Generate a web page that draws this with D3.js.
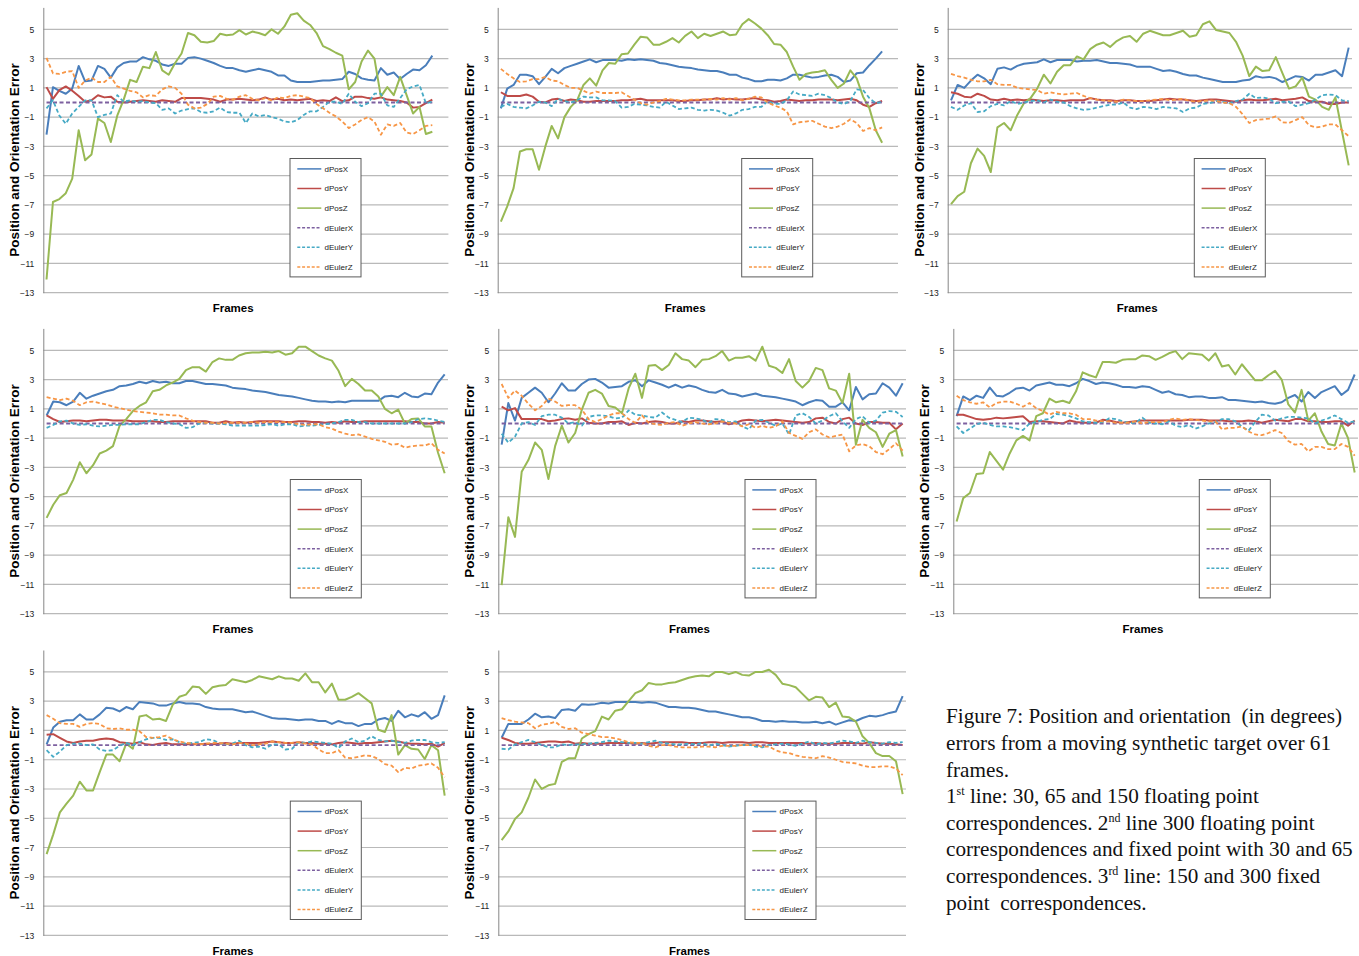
<!DOCTYPE html>
<html>
<head>
<meta charset="utf-8">
<script src="https://cdn.jsdelivr.net/npm/d3@7"></script>
<style>
  body { margin: 0; background: #fff; }
  svg text { font-family: "Liberation Sans", Arial, sans-serif; }
  .caption text { font-family: "Liberation Serif", "Times New Roman", serif; white-space: pre; }
</style>
</head>
<body>
<svg id="chart" width="1359" height="956"></svg>
<script>
// Series names and y ticks
const seriesNames = ['dPosX', 'dPosY', 'dPosZ', 'dEulerX', 'dEulerY', 'dEulerZ'];
const yTicks = [-13, -11, -9, -7, -5, -3, -1, 1, 3, 5];
const yDomain = [-13, 6.5];

// dEulerX stays on zero in every panel
const eulerXFlat = [0, 0, 0, 0, 0, 0, 0, 0, 0, 0, 0, 0, 0, 0, 0, 0, 0, 0, 0, 0,
  0, 0, 0, 0, 0, 0, 0, 0, 0, 0, 0, 0, 0, 0, 0, 0, 0, 0, 0, 0,
  0, 0, 0, 0, 0, 0, 0, 0, 0, 0, 0, 0, 0, 0, 0, 0, 0, 0, 0, 0, 0];

// Panel 1 (30 floating)
const p1PosX = [-2.2, 1.05, 0.8, 0.6, 0.95, 2.5, 1.45, 1.5, 2.5, 2.3,
  1.7, 2.4, 2.7, 2.8, 2.8, 3.1, 2.95, 2.85, 2.6, 2.5,
  2.65, 2.65, 3.05, 3.1, 3.0, 2.85, 2.7, 2.5, 2.35, 2.35,
  2.2, 2.1, 2.2, 2.3, 2.2, 2.1, 1.85, 1.85, 1.5, 1.4,
  1.4, 1.4, 1.45, 1.5, 1.5, 1.55, 1.6, 2.1, 1.95, 1.65,
  1.55, 1.5, 2.35, 1.9, 2.05, 1.6, 1.95, 2.25, 2.2, 2.55, 3.2];
const p1PosY = [1.05, 0.25, 0.85, 1.1, 0.8, 0.45, 0.05, 0.15, 0.5, 0.35,
  0.4, 0.05, 0.0, 0.05, 0.1, 0.15, 0.1, 0.05, 0.15, 0.1,
  0.05, 0.3, 0.3, 0.3, 0.3, 0.25, 0.2, 0.05, 0.2, 0.2,
  0.25, 0.2, 0.15, 0.2, 0.35, 0.2, 0.25, 0.15, 0.2, 0.15,
  0.2, 0.25, 0.1, 0.15, 0.1, 0.35, 0.1, 0.15, 0.4, 0.4,
  0.3, 0.25, 0.35, 0.2, 0.15, 0.1, 0.0, -0.35, -0.3, -0.05, 0.2];
const p1PosZ = [-12.1, -6.8, -6.6, -6.2, -5.2, -1.9, -3.95, -3.55, -1.1, -1.4,
  -2.7, -0.9, 0.2, 1.55, 1.4, 2.45, 2.35, 3.45, 2.2, 1.9,
  2.7, 3.35, 4.75, 4.6, 4.15, 4.1, 4.2, 4.7, 4.6, 4.65,
  4.95, 4.65, 4.85, 4.75, 4.6, 5.0, 4.7, 5.2, 6.0, 6.1,
  5.6, 5.3, 4.75, 3.85, 3.65, 3.4, 3.2, 0.9, 1.4, 2.8,
  3.55, 3.0, 0.4, 1.05, 0.5, 1.75, 0.5, -0.75, -0.3, -2.15, -2.0];
const p1EulerY = [-0.4, 0.15, -0.9, -1.45, -0.75, -0.3, 0.15, 0.15, -1.0, -0.85,
  -0.75, 0.5, 0.05, 0.15, 0.05, 0.1, 0.0, -0.05, -0.5, -0.4,
  -0.75, -0.55, -0.45, -0.4, -0.65, -0.7, -0.6, -0.35, -0.65, -0.7,
  -0.7, -1.4, -0.75, -0.95, -0.85, -1.0, -1.1, -1.3, -1.35, -1.2,
  -0.85, -0.6, -0.6, -0.3, 0.05, 0.05, -0.1, 0.6, 0.05, -0.25,
  -0.05, 0.6, 0.6, -0.2, -0.3, 0.3, 0.9, 1.1, 1.2, -0.05, 0.05];
const p1EulerZ = [3.05, 2.0, 1.95, 2.1, 2.15, 1.0, 1.5, 1.7, 1.4, 1.4,
  1.75, 1.1, 0.95, 0.8, 0.7, 0.35, 0.5, 0.45, 0.9, 1.1,
  1.0, 0.6, -0.15, -0.4, -0.35, -0.1, 0.4, 0.45, 0.25, 0.2,
  0.4, 0.5, 0.25, 0.15, 0.3, 0.15, 0.35, 0.3, 0.45, 0.5,
  0.4, 0.3, -0.1, -0.4, -0.7, -0.95, -1.3, -1.75, -1.5, -1.2,
  -1.0, -1.3, -2.2, -1.5, -1.6, -1.4, -2.05, -2.15, -1.9, -1.6, -1.55];

// Panel 2 (65 floating)
const p2PosX = [-0.4, 0.95, 1.2, 1.9, 1.9, 1.8, 1.25, 1.75, 2.3, 2.0,
  2.35, 2.5, 2.65, 2.8, 2.95, 2.75, 2.9, 2.9, 2.9, 2.85,
  2.95, 2.9, 2.95, 2.9, 2.85, 2.7, 2.65, 2.55, 2.45, 2.4,
  2.35, 2.25, 2.2, 2.15, 2.15, 2.05, 1.9, 1.9, 1.7, 1.6,
  1.45, 1.45, 1.55, 1.55, 1.5, 1.65, 1.9, 1.9, 1.8, 1.7,
  1.75, 1.85, 1.9, 1.75, 1.4, 1.5, 2.0, 2.05, 2.55, 3.0, 3.5];
const p2PosY = [0.7, 0.45, 0.45, 0.45, 0.55, 0.4, 0.05, 0.0, 0.2, 0.25,
  0.1, 0.2, 0.15, 0.05, 0.05, 0.1, 0.1, 0.1, 0.1, 0.15,
  0.15, 0.2, 0.25, 0.15, 0.15, 0.15, 0.15, 0.15, 0.1, 0.1,
  0.15, 0.15, 0.2, 0.2, 0.3, 0.2, 0.25, 0.2, 0.2, 0.25,
  0.3, 0.2, 0.15, 0.05, 0.1, 0.2, 0.15, 0.1, 0.15, 0.15,
  0.2, 0.2, 0.2, 0.15, 0.2, 0.25, 0.15, -0.15, -0.3, -0.05, 0.1];
const p2PosZ = [-8.15, -7.1, -5.85, -3.35, -3.2, -3.2, -4.6, -3.0, -1.6, -2.45,
  -1.0, -0.3, 0.15, 1.2, 1.65, 1.15, 2.2, 2.7, 2.65, 3.3,
  3.35, 3.95, 4.5, 4.45, 3.95, 3.95, 4.15, 4.4, 4.1, 4.55,
  4.85, 4.4, 4.7, 4.55, 4.7, 4.85, 4.6, 4.65, 5.35, 5.7,
  5.4, 5.05, 4.6, 4.0, 3.95, 3.45, 2.45, 1.55, 1.95, 2.05,
  2.1, 2.2, 1.55, 1.0, 1.3, 2.2, 1.65, 0.4, -0.4, -1.9, -2.75];
const p2EulerY = [-0.3, -0.1, -0.3, -0.35, -0.4, -0.2, 0.05, 0.0, -0.25, 0.25,
  0.1, 0.0, 0.15, 0.4, 0.35, 0.35, 0.15, 0.15, 0.1, -0.35,
  -0.3, -0.1, -0.15, -0.2, -0.3, -0.35, 0.05, -0.2, -0.45, -0.4,
  -0.35, -0.5, -0.55, -0.5, -0.55, -0.7, -0.9, -0.75, -0.5, -0.45,
  -0.3, -0.3, 0.1, -0.1, -0.1, 0.15, 0.75, 0.55, 0.5, 0.45,
  0.6, 0.5, 0.3, 0.0, -0.1, 0.1, 0.9, 0.85, 0.3, -0.05, 0.05];
const p2EulerZ = [2.3, 1.95, 1.65, 1.4, 1.45, 1.6, 1.6, 1.75, 1.5, 1.45,
  1.2, 1.0, 1.0, 0.8, 0.6, 0.75, 0.65, 0.65, 0.65, 0.7,
  0.45, 0.2, -0.05, -0.15, 0.0, 0.1, 0.25, 0.2, 0.15, 0.15,
  0.2, 0.2, 0.2, 0.25, 0.2, 0.3, 0.2, 0.3, 0.15, 0.25,
  0.4, 0.35, 0.0, -0.2, -0.35, -0.6, -1.5, -1.35, -1.3, -1.25,
  -1.45, -1.65, -1.75, -1.65, -1.45, -1.15, -1.4, -1.95, -1.75, -1.9, -1.7];

// Panel 3 (150 floating)
const p3PosX = [0.15, 1.2, 1.0, 1.5, 1.9, 1.65, 1.25, 2.3, 2.4, 2.25,
  2.5, 2.65, 2.7, 2.75, 2.95, 2.75, 2.9, 2.9, 2.9, 2.8,
  2.85, 2.85, 2.9, 2.8, 2.7, 2.7, 2.65, 2.6, 2.45, 2.45,
  2.45, 2.3, 2.15, 2.2, 2.1, 1.95, 1.85, 1.85, 1.7, 1.6,
  1.5, 1.4, 1.4, 1.4, 1.5, 1.55, 1.8, 1.7, 1.75, 1.65,
  1.4, 1.6, 1.8, 1.75, 1.5, 1.9, 1.9, 2.05, 2.2, 1.8, 3.75];
const p3PosY = [0.7, 0.6, 0.4, 0.35, 0.6, 0.45, 0.2, 0.15, 0.25, 0.15,
  0.2, 0.15, 0.2, 0.15, 0.1, 0.15, 0.15, 0.1, 0.15, 0.15,
  0.15, 0.3, 0.2, 0.15, 0.15, 0.1, 0.15, 0.15, 0.1, 0.1,
  0.1, 0.15, 0.2, 0.25, 0.2, 0.2, 0.15, 0.1, 0.15, 0.2,
  0.2, 0.15, 0.1, 0.05, 0.15, 0.2, 0.15, 0.15, 0.2, 0.25,
  0.15, 0.2, 0.25, 0.35, 0.1, 0.05, 0.05, -0.1, -0.1, 0.0, 0.0];
const p3PosZ = [-6.95, -6.4, -6.1, -4.15, -3.15, -3.65, -4.75, -1.7, -1.4, -1.9,
  -0.85, -0.05, 0.3, 0.95, 1.9, 1.3, 2.1, 2.55, 2.55, 3.15,
  2.95, 3.65, 3.95, 4.1, 3.8, 4.2, 4.45, 4.55, 4.15, 4.7,
  4.9, 4.75, 4.6, 4.6, 4.75, 4.9, 4.5, 4.6, 5.35, 5.55,
  4.95, 4.85, 4.75, 4.15, 3.2, 1.8, 2.45, 2.15, 2.2, 3.1,
  2.0, 0.95, 1.1, 1.7, 0.4, 0.2, -0.3, -0.5, 0.35, -2.0, -4.3];
const p3EulerY = [-0.3, -0.5, -0.2, -0.05, -0.65, -0.6, -0.25, -0.1, -0.2, 0.1,
  -0.1, 0.0, 0.1, 0.15, 0.0, 0.2, 0.05, 0.0, -0.25, -0.4,
  -0.5, -0.45, -0.35, -0.25, -0.15, -0.15, 0.0, -0.35, -0.45, -0.3,
  -0.35, -0.45, -0.3, -0.35, -0.4, -0.65, -0.4, -0.35, -0.1, -0.05,
  0.1, 0.05, -0.05, 0.1, 0.2, 0.6, 0.3, 0.35, 0.25, -0.05,
  0.05, 0.05, -0.25, -0.15, -0.05, 0.2, 0.5, 0.55, 0.5, 0.15, 0.1];
const p3EulerZ = [1.95, 1.8, 1.7, 1.55, 1.45, 1.45, 1.55, 1.25, 1.2, 1.2,
  1.0, 0.95, 0.9, 0.85, 0.6, 0.7, 0.6, 0.55, 0.6, 0.65,
  0.45, 0.3, 0.2, 0.15, 0.1, 0.05, 0.2, 0.15, 0.1, 0.1,
  0.15, 0.2, 0.25, 0.15, 0.2, 0.25, 0.1, 0.05, 0.1, 0.15,
  0.1, 0.0, -0.05, -0.3, -0.8, -1.4, -1.2, -1.15, -1.1, -0.95,
  -1.35, -1.4, -1.2, -1.0, -1.55, -1.7, -1.65, -1.5, -1.5, -1.9, -2.3];

// Panel 4 (300 floating)
const p4PosX = [0.55, 1.5, 1.45, 1.25, 1.5, 2.1, 1.7, 1.9, 2.05, 2.2,
  2.3, 2.55, 2.6, 2.7, 2.85, 2.75, 2.9, 2.8, 2.85, 2.75,
  2.75, 2.9, 2.9, 2.8, 2.7, 2.7, 2.65, 2.6, 2.45, 2.4,
  2.35, 2.25, 2.2, 2.15, 2.05, 1.95, 1.9, 1.85, 1.75, 1.65,
  1.55, 1.5, 1.5, 1.45, 1.5, 1.45, 1.55, 1.55, 1.55, 1.55,
  1.55, 1.85, 1.9, 1.8, 2.1, 1.85, 1.8, 2.05, 2.0, 2.8, 3.35];
const p4PosY = [0.55, 0.3, 0.1, 0.15, 0.2, 0.2, 0.15, 0.2, 0.25, 0.25,
  0.2, 0.2, 0.2, 0.15, 0.15, 0.15, 0.15, 0.1, 0.1, 0.15,
  0.15, 0.15, 0.15, 0.15, 0.15, 0.05, 0.05, 0.15, 0.05, 0.1,
  0.05, 0.1, 0.15, 0.15, 0.15, 0.15, 0.1, 0.1, 0.15, 0.15,
  0.1, 0.1, 0.05, 0.1, 0.05, 0.15, 0.1, 0.1, 0.15, 0.15,
  0.15, 0.15, 0.15, 0.15, 0.15, 0.1, 0.1, 0.0, 0.0, 0.1, 0.05];
const p4PosZ = [-6.45, -5.55, -4.9, -4.75, -3.85, -2.65, -3.4, -2.85, -2.05, -1.85,
  -1.55, -0.15, 0.3, 0.85, 1.2, 1.45, 2.2, 2.3, 2.6, 2.8,
  3.05, 3.65, 3.85, 3.85, 3.55, 4.2, 4.45, 4.35, 4.35, 4.65,
  4.8, 4.85, 4.85, 4.9, 4.85, 4.95, 4.7, 4.8, 5.25, 5.25,
  4.95, 4.65, 4.45, 4.3, 3.6, 2.55, 3.05, 2.7, 2.25, 2.25,
  1.85, 1.0, 0.7, 0.95, 0.0, 0.3, 0.35, -0.2, -0.2, -2.0, -3.4];
const p4EulerY = [-0.3, -0.1, 0.15, 0.2, 0.0, -0.1, -0.05, -0.15, -0.2, -0.15,
  -0.1, -0.1, -0.05, -0.05, -0.05, 0.1, 0.25, 0.25, 0.1, 0.0,
  -0.05, -0.3, -0.25, 0.0, 0.05, 0.0, 0.0, -0.05, -0.15, -0.15,
  -0.15, -0.15, -0.15, -0.1, -0.05, -0.15, -0.05, -0.05, -0.2, -0.15,
  -0.15, -0.1, -0.05, 0.0, 0.1, 0.25, 0.25, 0.1, 0.1, 0.0,
  0.0, 0.0, 0.0, 0.0, 0.0, 0.1, 0.3, 0.35, 0.3, 0.2, 0.1];
const p4EulerZ = [1.8, 1.7, 1.6, 1.7, 1.55, 1.25, 1.45, 1.5, 1.4, 1.3,
  1.15, 1.05, 0.95, 0.85, 0.8, 0.75, 0.7, 0.6, 0.6, 0.55,
  0.55, 0.35, 0.2, 0.1, 0.05, 0.05, 0.0, 0.05, 0.05, 0.05,
  0.05, 0.1, 0.05, 0.1, 0.1, 0.1, 0.1, 0.05, -0.05, -0.1,
  -0.05, -0.05, -0.25, -0.35, -0.55, -0.7, -0.8, -0.75, -0.9, -1.05,
  -1.15, -1.25, -1.45, -1.4, -1.65, -1.55, -1.5, -1.5, -1.35, -1.8, -2.05];

// Panel 5 (30 fixed)
const p5PosX = [-1.45, 1.4, 0.2, 1.75, 2.1, 2.45, 2.1, 1.45, 2.05, 2.75,
  2.25, 2.25, 2.7, 3.0, 3.05, 2.8, 2.45, 2.5, 2.55, 2.85,
  2.95, 2.55, 2.95, 2.8, 2.65, 2.45, 2.65, 2.45, 2.6, 2.5,
  2.3, 2.15, 2.1, 2.3, 2.05, 2.0, 1.85, 1.95, 2.05, 1.9,
  1.85, 1.8, 1.7, 1.6, 1.5, 1.25, 1.45, 1.6, 1.55, 1.15,
  1.15, 1.45, 0.9, 2.5, 1.65, 2.0, 2.05, 2.75, 2.45, 1.9, 2.75];
const p5PosY = [1.15, 0.9, 1.05, 0.3, 0.3, 0.3, 0.3, 0.15, 0.2, 0.3,
  0.35, 0.25, 0.35, 0.05, 0.0, 0.0, 0.1, 0.1, 0.15, -0.1,
  0.05, 0.0, 0.1, 0.15, 0.1, 0.0, 0.0, 0.15, 0.1, 0.2,
  0.2, 0.15, 0.1, 0.15, -0.05, 0.05, 0.2, 0.25, 0.2, 0.15,
  0.2, 0.25, 0.2, 0.15, 0.1, 0.05, 0.1, 0.35, 0.4, 0.1,
  0.0, 0.3, 0.4, 0.0, -0.1, 0.1, 0.1, 0.05, 0.05, -0.4, 0.0];
const p5PosZ = [-11.05, -6.4, -7.75, -3.3, -2.5, -1.3, -1.8, -3.8, -1.55, -0.15,
  -1.3, -0.65, 0.95, 2.1, 2.3, 2.05, 1.2, 1.1, 0.7, 2.4,
  3.4, 1.75, 3.95, 4.0, 3.65, 4.0, 4.8, 4.4, 4.3, 3.85,
  4.35, 4.4, 4.6, 4.95, 4.3, 4.5, 4.5, 4.6, 4.3, 5.25,
  3.95, 3.8, 3.45, 4.4, 2.9, 2.45, 2.9, 3.8, 3.65, 2.4,
  2.25, 1.4, 3.4, -1.45, 0.25, -0.3, -0.6, -1.6, -0.7, -0.45, -2.25];
const p5EulerY = [-0.7, -1.3, -0.9, 0.0, 0.1, -0.1, 0.5, 0.6, 0.6, 0.4,
  0.0, 0.1, -0.15, 0.45, 0.55, 0.55, 0.5, 0.35, 0.4, 0.9,
  0.6, 0.55, 0.45, 0.4, 0.75, 0.4, 0.25, 0.1, 0.4, 0.35,
  0.25, 0.05, 0.3, 0.25, 0.1, 0.15, -0.2, -0.4, 0.2, 0.25,
  0.05, -0.15, 0.0, -0.75, 0.55, 0.7, 0.45, 0.0, 0.2, 0.5,
  0.7, 0.15, -0.3, 0.3, 0.5, 0.05, 0.2, 0.75, 0.85, 0.8, 0.45];
const p5EulerZ = [2.7, 1.75, 2.25, 1.9, 1.35, 0.9, 1.2, 1.7, 1.5, 1.2,
  1.25, 1.25, 0.95, 0.3, 0.1, 0.3, 0.55, 0.7, 0.7, 0.3,
  0.05, 0.55, 0.05, -0.05, -0.1, 0.05, 0.1, -0.15, 0.0, 0.1,
  0.0, -0.05, 0.0, 0.15, 0.05, 0.0, -0.2, -0.05, -0.3, -0.15,
  -0.3, -0.2, 0.15, -0.65, -0.85, -1.05, -0.6, -0.4, -0.75, -0.95,
  -0.85, -0.75, -1.9, -1.5, -1.4, -1.55, -1.95, -2.1, -1.75, -1.35, -1.85];

// Panel 6 (65 fixed)
const p6PosX = [0.5, 1.85, 1.6, 1.9, 1.75, 2.45, 1.9, 1.85, 2.1, 2.4,
  2.45, 2.25, 2.6, 2.7, 2.8, 2.65, 2.65, 2.55, 2.75, 3.05,
  2.9, 2.7, 2.8, 2.75, 2.65, 2.5, 2.5, 2.45, 2.55, 2.5,
  2.3, 2.1, 2.2, 2.0, 1.95, 1.8, 1.85, 1.85, 1.75, 1.75,
  1.8, 1.6, 1.6, 1.55, 1.5, 1.45, 1.5, 1.4, 1.35, 1.45,
  1.75, 1.95, 1.5, 2.15, 1.75, 2.15, 2.35, 2.55, 1.95, 2.3, 3.35];
const p6PosY = [0.6, 0.6, 0.45, 0.3, 0.25, 0.3, 0.4, 0.35, 0.4, 0.45,
  0.5, 0.1, 0.15, 0.15, 0.1, 0.05, 0.0, 0.2, 0.1, 0.05,
  0.05, 0.05, 0.25, 0.2, 0.1, 0.05, 0.1, 0.15, 0.2, 0.2,
  0.2, 0.2, 0.2, 0.2, 0.2, 0.25, 0.25, 0.25, 0.2, 0.2,
  0.2, 0.15, 0.15, 0.15, 0.2, 0.15, 0.05, 0.15, 0.25, 0.2,
  0.15, 0.3, 0.3, 0.15, 0.15, 0.1, 0.1, 0.15, 0.15, -0.15, 0.2];
const p6PosZ = [-6.7, -5.1, -4.75, -3.45, -3.4, -1.95, -2.55, -3.15, -2.05, -1.15,
  -0.85, -1.15, 0.5, 0.7, 1.7, 1.45, 1.55, 1.4, 2.2, 3.5,
  3.3, 3.15, 4.2, 4.2, 4.15, 4.35, 4.4, 4.4, 4.65, 4.6,
  4.35, 4.55, 4.8, 4.95, 4.4, 4.8, 4.75, 4.7, 4.3, 4.8,
  3.9, 4.0, 3.35, 4.05, 3.5, 2.95, 2.95, 3.3, 3.6, 3.0,
  1.3, 0.75, 2.3, 0.2, 0.7, -0.55, -1.4, -1.5, 0.0, -1.0, -3.35];
const p6EulerY = [-0.2, -0.65, -0.35, -0.05, 0.05, -0.1, -0.2, -0.2, -0.25, -0.35,
  -0.45, 0.0, 0.1, 0.25, 0.3, 0.65, 0.6, 0.5, 0.35, 0.15,
  0.1, 0.05, 0.1, 0.35, 0.3, 0.15, 0.05, 0.05, 0.4, 0.05,
  0.0, -0.05, 0.15, -0.15, -0.25, -0.1, -0.35, -0.2, 0.0, 0.1,
  0.3, 0.3, 0.15, -0.2, -0.5, 0.1, 0.6, 0.55, 0.2, 0.35,
  0.45, 0.45, 0.4, 0.35, 0.0, 0.2, 0.35, 0.55, 0.3, 0.05, 0.15];
const p6EulerZ = [1.9, 1.6, 1.45, 1.35, 1.45, 1.1, 1.4, 1.5, 1.5, 1.35,
  1.15, 1.4, 1.05, 0.85, 0.6, 0.8, 0.7, 0.7, 0.6, 0.3,
  0.3, 0.2, 0.15, 0.15, 0.05, 0.05, 0.05, 0.15, 0.0, 0.1,
  0.1, 0.1, 0.25, 0.35, 0.25, 0.3, 0.25, 0.2, 0.15, 0.15,
  -0.4, -0.3, -0.3, -0.2, -0.55, -0.75, -0.8, -0.65, -0.45, -0.65,
  -1.2, -1.45, -1.4, -1.9, -1.6, -1.6, -1.75, -1.75, -1.4, -1.6, -2.2];

// Panel 7 (150 fixed)
const p7PosX = [0.05, 1.2, 1.6, 1.7, 1.7, 2.1, 1.75, 1.75, 2.1, 2.55,
  2.5, 2.3, 2.6, 2.45, 2.95, 2.9, 2.85, 2.7, 2.7, 2.85,
  2.95, 2.85, 2.85, 2.8, 2.6, 2.5, 2.45, 2.45, 2.45, 2.35,
  2.25, 2.3, 2.15, 2.0, 1.85, 1.8, 1.8, 1.75, 1.7, 1.75,
  1.75, 1.65, 1.65, 1.45, 1.65, 1.5, 1.5, 1.3, 1.45, 1.45,
  1.75, 1.85, 1.65, 2.35, 1.9, 2.1, 1.95, 2.25, 1.8, 2.05, 3.4];
const p7PosY = [0.7, 0.75, 0.5, 0.25, 0.15, 0.25, 0.3, 0.3, 0.4, 0.45,
  0.4, 0.2, 0.15, 0.1, 0.2, 0.05, 0.0, 0.1, 0.15, 0.05,
  0.05, 0.05, 0.05, 0.05, 0.1, 0.05, 0.1, 0.15, 0.1, 0.15,
  0.15, 0.15, 0.15, 0.2, 0.25, 0.2, 0.15, 0.15, 0.2, 0.15,
  0.15, 0.1, 0.1, 0.05, 0.15, 0.2, 0.15, 0.1, 0.15, 0.15,
  0.2, 0.25, 0.3, 0.25, 0.15, 0.1, 0.1, 0.05, 0.1, -0.1, 0.15];
const p7PosZ = [-7.45, -6.1, -4.6, -4.0, -3.45, -2.5, -3.1, -3.1, -1.85, -0.65,
  -0.65, -1.1, 0.1, -0.25, 1.95, 2.05, 1.75, 1.8, 1.65, 2.75,
  3.3, 3.45, 4.0, 3.95, 3.5, 3.95, 4.05, 4.1, 4.5, 4.4,
  4.3, 4.45, 4.7, 4.6, 4.5, 4.7, 4.55, 4.55, 4.4, 4.9,
  4.3, 4.3, 3.6, 4.2, 3.1, 3.1, 3.3, 3.55, 3.2, 2.85,
  1.05, 0.9, 2.05, -0.65, 0.0, -0.25, -0.3, -0.95, 0.0, -0.35, -3.45];
const p7EulerY = [-0.35, -0.8, -0.45, 0.0, 0.1, 0.1, 0.0, 0.05, -0.3, -0.4,
  -0.35, -0.05, 0.15, 0.0, 0.2, 0.4, 0.5, 0.5, 0.35, 0.4,
  0.2, 0.1, 0.15, 0.2, 0.4, 0.35, 0.15, 0.05, 0.1, 0.3,
  0.0, -0.15, -0.1, -0.25, 0.05, 0.05, -0.3, -0.25, 0.2, 0.15,
  0.25, 0.2, 0.15, 0.1, -0.2, 0.25, 0.45, 0.2, 0.3, 0.6,
  0.35, 0.25, 0.3, 0.2, 0.15, 0.3, 0.35, 0.35, 0.2, 0.15, 0.2];
const p7EulerZ = [2.05, 1.8, 1.5, 1.45, 1.45, 1.25, 1.45, 1.5, 1.45, 1.15,
  1.1, 1.15, 1.05, 1.05, 0.95, 0.55, 0.5, 0.55, 0.65, 0.4,
  0.25, 0.15, 0.1, 0.05, 0.1, 0.15, 0.15, 0.1, 0.05, 0.15,
  0.1, 0.0, 0.05, 0.1, 0.25, 0.2, 0.15, 0.15, 0.2, 0.1,
  0.05, -0.3, -0.55, -0.55, -0.35, -0.85, -0.9, -0.8, -0.7, -0.75,
  -0.95, -1.3, -1.4, -1.85, -1.55, -1.6, -1.4, -1.35, -1.25, -1.55, -2.2];

// Panel 8 (300 fixed)
const p8PosX = [0.5, 1.45, 1.45, 1.45, 1.75, 2.15, 1.9, 1.95, 1.85, 2.4,
  2.45, 2.35, 2.8, 2.75, 2.8, 2.9, 2.85, 2.95, 2.95, 2.95,
  2.95, 2.9, 2.95, 2.9, 2.75, 2.6, 2.6, 2.55, 2.55, 2.5,
  2.4, 2.3, 2.3, 2.2, 2.1, 2.0, 1.9, 1.9, 1.8, 1.65,
  1.65, 1.6, 1.65, 1.6, 1.6, 1.55, 1.55, 1.6, 1.5, 1.6,
  1.4, 1.55, 1.7, 1.65, 1.85, 2.0, 1.95, 2.05, 2.2, 2.3, 3.35];
const p8PosY = [0.5, 0.35, 0.15, 0.1, 0.1, 0.15, 0.2, 0.25, 0.25, 0.2,
  0.25, 0.1, 0.15, 0.1, 0.1, 0.1, 0.15, 0.15, 0.15, 0.15,
  0.1, 0.15, 0.1, 0.15, 0.2, 0.2, 0.2, 0.2, 0.15, 0.15,
  0.15, 0.2, 0.2, 0.15, 0.2, 0.2, 0.2, 0.15, 0.2, 0.2,
  0.15, 0.15, 0.15, 0.15, 0.15, 0.15, 0.1, 0.15, 0.1, 0.1,
  0.1, 0.15, 0.15, 0.15, 0.1, 0.2, 0.15, 0.1, 0.1, 0.05, 0.0];
const p8PosZ = [-6.5, -5.9, -5.05, -4.6, -3.6, -2.35, -3.0, -2.75, -2.65, -1.15,
  -0.9, -0.9, 0.45, 0.75, 0.95, 1.95, 1.75, 2.35, 2.45, 3.0,
  3.55, 3.75, 4.25, 4.15, 4.15, 4.25, 4.3, 4.45, 4.6, 4.7,
  4.75, 4.7, 5.0, 5.0, 4.85, 5.0, 4.8, 4.75, 5.0, 5.0,
  5.15, 4.8, 4.2, 4.1, 3.95, 3.5, 3.05, 3.3, 3.25, 2.6,
  2.9, 1.95, 1.9, 1.6, 0.6, 0.15, -0.55, -0.75, -0.75, -1.1, -3.35];
const p8EulerY = [-0.25, -0.3, 0.05, 0.2, 0.35, 0.2, 0.0, -0.15, -0.15, 0.05,
  0.0, 0.05, 0.05, 0.1, 0.15, 0.2, 0.3, 0.25, 0.2, 0.15,
  0.15, 0.1, 0.2, 0.3, 0.15, 0.1, 0.05, 0.05, 0.1, 0.05,
  0.15, -0.05, 0.1, 0.0, -0.1, -0.05, 0.0, 0.05, -0.1, -0.15,
  0.0, 0.05, 0.1, 0.05, -0.05, 0.1, 0.25, 0.05, 0.15, 0.1,
  0.2, 0.3, 0.25, 0.15, 0.3, 0.2, 0.15, 0.1, 0.2, 0.15, 0.2];
const p8EulerZ = [1.85, 1.7, 1.6, 1.55, 1.5, 1.15, 1.4, 1.45, 1.6, 1.25,
  1.1, 1.15, 0.85, 0.75, 0.65, 0.55, 0.55, 0.45, 0.35, 0.2,
  0.15, 0.15, -0.05, -0.15, 0.0, 0.0, -0.1, -0.15, -0.15, -0.15,
  -0.1, -0.1, -0.15, -0.05, -0.05, -0.05, 0.0, 0.0, 0.0, -0.1,
  -0.1, -0.35, -0.5, -0.55, -0.7, -0.8, -0.85, -0.9, -0.75, -0.85,
  -1.0, -1.15, -1.2, -1.25, -1.4, -1.5, -1.5, -1.45, -1.45, -1.6, -2.05];

// Look of each series
const seriesStyle = [
  {color: '#4a7ebb', dash: null},
  {color: '#be4b48', dash: null},
  {color: '#98b954', dash: null},
  {color: '#7d60a0', dash: '4,2.5'},
  {color: '#46aac5', dash: '4,2.5'},
  {color: '#f79646', dash: '4,2.5'}
];

// Panel placement on the page
const panels = [
  {left: 43.3, right: 448.4, bottom: 292.7, cats: 63, legendX: 290, series: [p1PosX, p1PosY, p1PosZ, eulerXFlat, p1EulerY, p1EulerZ]},
  {left: 497.7, right: 898, bottom: 292.7, cats: 63, legendX: 741.7, series: [p2PosX, p2PosY, p2PosZ, eulerXFlat, p2EulerY, p2EulerZ]},
  {left: 947.7, right: 1352, bottom: 292.7, cats: 61, legendX: 1194.3, series: [p3PosX, p3PosY, p3PosZ, eulerXFlat, p3EulerY, p3EulerZ]},
  {left: 43.3, right: 448, bottom: 613.7, cats: 61, legendX: 290.3, series: [p4PosX, p4PosY, p4PosZ, eulerXFlat, p4EulerY, p4EulerZ]},
  {left: 498.3, right: 906, bottom: 613.7, cats: 61, legendX: 745, series: [p5PosX, p5PosY, p5PosZ, eulerXFlat, p5EulerY, p5EulerZ]},
  {left: 953.3, right: 1358, bottom: 613.7, cats: 61, legendX: 1199.3, series: [p6PosX, p6PosY, p6PosZ, eulerXFlat, p6EulerY, p6EulerZ]},
  {left: 43.3, right: 448, bottom: 935.3, cats: 61, legendX: 290.3, series: [p7PosX, p7PosY, p7PosZ, eulerXFlat, p7EulerY, p7EulerZ]},
  {left: 498.3, right: 906, bottom: 935.3, cats: 61, legendX: 745, series: [p8PosX, p8PosY, p8PosZ, eulerXFlat, p8EulerY, p8EulerZ]}
];
const plotHeight = 285.3;

const svg = d3.select('#chart');

panels.forEach(p => {
  const g = svg.append('g').attr('class', 'panel');
  const x = d3.scaleLinear().domain([-0.5, p.cats - 0.5]).range([p.left, p.right]);
  const y = d3.scaleLinear().domain(yDomain).range([p.bottom, p.bottom - plotHeight]);

  // Gridlines
  g.append('g')
    .selectAll('line')
    .data(yTicks)
    .join('line')
      .attr('x1', p.left)
      .attr('x2', p.right)
      .attr('y1', d => y(d))
      .attr('y2', d => y(d))
      .attr('stroke', '#b9b9b9')
      .attr('stroke-width', 1.2);

  // Value axis
  const yAxis = g.append('g')
    .attr('transform', `translate(${p.left},0)`)
    .call(d3.axisLeft(y).tickValues(yTicks).tickSize(0).tickPadding(9));
  yAxis.select('.domain').attr('stroke', '#868686').attr('stroke-width', 1);
  yAxis.selectAll('text')
    .attr('font-size', 8.5)
    .attr('fill', '#222')
    .attr('font-family', '"Liberation Sans", Arial, sans-serif');

  // Axis titles
  g.append('text')
    .attr('transform', `translate(${p.left - 28.5},${p.bottom - plotHeight / 2 + 10}) rotate(-90)`)
    .attr('text-anchor', 'middle')
    .attr('dominant-baseline', 'central')
    .attr('font-size', 13.5)
    .attr('font-weight', 'bold')
    .text('Position and Orientation Error');
  g.append('text')
    .attr('x', (p.left + p.right) / 2 - 12.7)
    .attr('y', p.bottom + 19.5)
    .attr('text-anchor', 'middle')
    .attr('font-size', 11.5)
    .attr('font-weight', 'bold')
    .text('Frames');

  // Series lines
  const line = d3.line()
    .x((d, i) => x(i))
    .y(d => y(d));
  g.append('g')
    .selectAll('path')
    .data(p.series)
    .join('path')
      .attr('d', d => line(d))
      .attr('fill', 'none')
      .attr('stroke', (d, i) => seriesStyle[i].color)
      .attr('stroke-width', (d, i) => seriesStyle[i].dash ? 1.8 : 2)
      .attr('stroke-dasharray', (d, i) => seriesStyle[i].dash)
      .attr('stroke-linejoin', 'round');

  // Legend
  const legendTop = p.bottom - 134.2;
  const legend = g.append('g').attr('transform', `translate(${p.legendX},${legendTop})`);
  legend.append('rect')
    .attr('width', 71)
    .attr('height', 118.4)
    .attr('fill', '#fff')
    .attr('stroke', '#5a5a5a')
    .attr('stroke-width', 1);
  const items = legend.selectAll('.legend-item')
    .data(seriesNames)
    .join('g')
      .attr('class', 'legend-item')
      .attr('transform', (d, i) => `translate(0,${10.4 + i * 19.6})`);
  items.append('line')
    .attr('x1', 7.3)
    .attr('x2', 31.3)
    .attr('stroke', (d, i) => seriesStyle[i].color)
    .attr('stroke-width', 1.5)
    .attr('stroke-dasharray', (d, i) => seriesStyle[i].dash ? '3,1.8' : null);
  items.append('text')
    .attr('x', 34.5)
    .attr('dy', '0.35em')
    .attr('font-size', 8)
    .attr('fill', '#222')
    .text(d => d);
});

// Figure caption
const captionLines = [
  [{t: 'Figure 7: Position and orientation  (in degrees)'}],
  [{t: 'errors from a moving synthetic target over 61'}],
  [{t: 'frames.'}],
  [{t: '1'}, {t: 'st', sup: true}, {t: ' line: 30, 65 and 150 floating point'}],
  [{t: 'correspondences. 2'}, {t: 'nd', sup: true}, {t: ' line 300 floating point'}],
  [{t: 'correspondences and fixed point with 30 and 65'}],
  [{t: 'correspondences. 3'}, {t: 'rd', sup: true}, {t: ' line: 150 and 300 fixed'}],
  [{t: 'point  correspondences.'}]
];
const caption = svg.append('g').attr('class', 'caption');
captionLines.forEach((parts, i) => {
  const text = caption.append('text')
    .attr('x', 946)
    .attr('y', 723.3 + i * 26.6)
    .attr('font-size', 21.2)
    .attr('fill', '#111');
  parts.forEach(part => {
    const span = text.append('tspan').text(part.t);
    if (part.sup) span.attr('font-size', 12).attr('dy', -8);
    else if (text.selectAll('tspan').size() > 1) span.attr('dy', 8);
  });
});
</script>
</body>
</html>
